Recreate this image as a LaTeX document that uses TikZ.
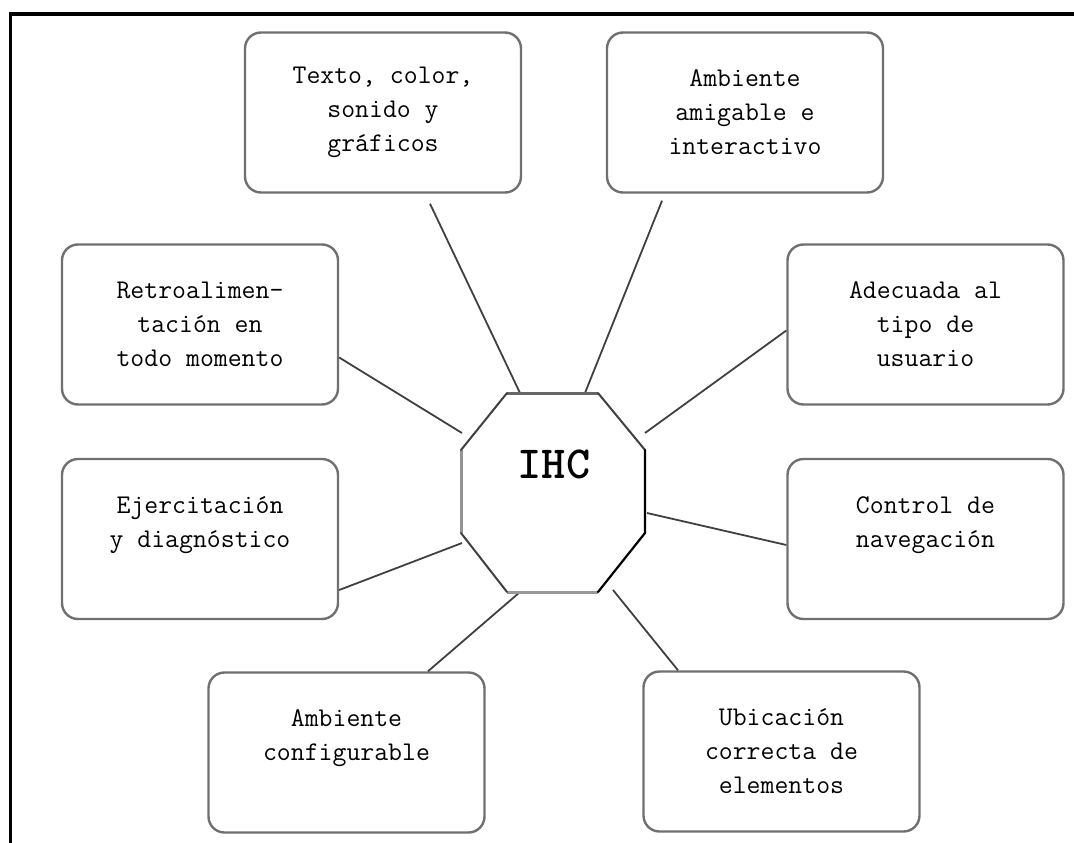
\documentclass[tikz,border=0pt]{standalone}
\usetikzlibrary{calc}
\definecolor{borde}{RGB}{112,112,112}
\definecolor{linea}{RGB}{64,64,64}

\begin{document}
\begin{tikzpicture}[x=1pt,y=-1pt,
    caja/.style={draw=borde, line width=2.4pt, rounded corners=16pt,
        minimum width=276pt, minimum height=160pt, align=center,
        font=\ttfamily\fontsize{27}{34}\selectfont},
    enlace/.style={draw=linea, line width=1.8pt}]
    \useasboundingbox (0,0) rectangle (1074,843);

    \draw[line width=3.5pt] (10.5,843) -- (10.5,14) -- (1074,14);

    \coordinate (A) at (507,393);
    \coordinate (B) at (598,393);
    \coordinate (C) at (645,450);
    \coordinate (D) at (645,533);
    \coordinate (E) at (598,592);
    \coordinate (F) at (507,592);
    \coordinate (G) at (461,533);
    \coordinate (H) at (461,450);

    \node[caja] (texto) at (383,112.5) {Texto, color,\\sonido y\\gráficos};
    \node[caja] (amigable) at (745,112.5) {Ambiente\\amigable e\\interactivo};
    \node[caja] (retro) at (200,324.5) {Retroalimen-\\tación en\\todo momento};
    \node[caja] (adecuada) at (925.5,324.5) {Adecuada al\\tipo de\\usuario};
    \node[caja] (ejerc) at (200,539) {Ejercitación\\y diagnóstico\\\mbox{}};
    \node[caja] (control) at (925.5,539) {Control de\\navegación\\\mbox{}};
    \node[caja] (config) at (346.5,752.5) {Ambiente\\configurable\\\mbox{}};
    \node[caja] (ubica) at (781.5,751.5) {Ubicación\\correcta de\\elementos};

    \draw[enlace] ($(texto.south)+(47,10)$) -- (520,393);
    \draw[enlace] ($(amigable.south)+(-83,7)$) -- (585,393);
    \draw[enlace] ($(retro.east)+(0,33)$) -- (462,433);
    \draw[enlace] ($(adecuada.west)+(0,6)$) -- (645,433);
    \draw[enlace] ($(ejerc.east)+(0,51)$) -- (462,543);
    \draw[enlace] ($(control.west)+(0,6)$) -- (647,513);
    \draw[enlace] ($(config.north)+(81.5,0)$) -- (520,592);
    \draw[enlace] ($(ubica.north)+(-103.5,0)$) -- (613,590);

    \fill[white] (A) -- (B) -- (C) -- (D) -- (E) -- (F) -- (G) -- (H) -- cycle;
    \draw[line width=3pt, gray!85] (G) -- (H);
    \draw[line width=3pt, gray!80] (E) -- (F);
    \draw[line width=3pt, black!60] (A) -- (B);
    \draw[line width=2pt, black!75, line cap=round]
        (F) -- (G) (H) -- (A) (B) -- (C);
    \draw[line width=2.2pt, black, line cap=round] (C) -- (D) -- (E);

    \node[font=\ttfamily\bfseries\fontsize{46}{46}\selectfont] (ihc) at (554,464) {IHC};
\end{tikzpicture}
\end{document}
